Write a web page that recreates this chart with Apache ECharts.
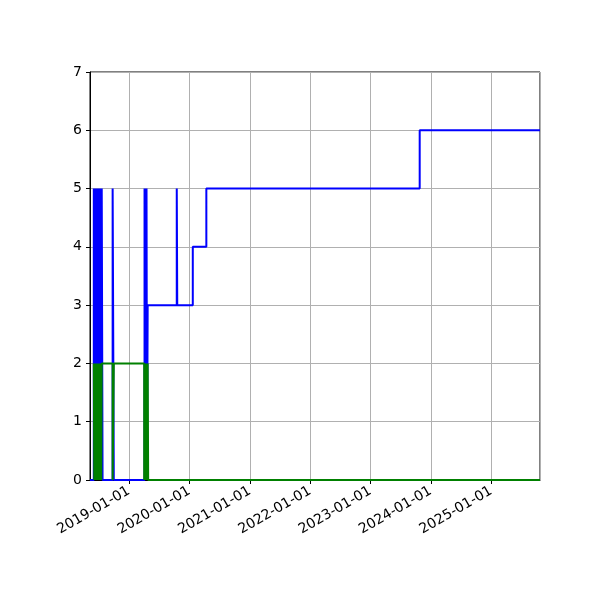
<!DOCTYPE html>
<html><head><meta charset="utf-8">
<script src="https://cdn.jsdelivr.net/npm/echarts@6/dist/echarts.min.js"></script>
<style>html,body{margin:0;padding:0;background:#fff}#c{width:600px;height:600px}</style>
</head><body><div id="c"></div>
<script>
// x-axis range
const xMin = '2018-05-10';
const xMax = '2025-10-23';
const yTicks = [0,1,2,3,4,5,6,7];

// blue series: [date, value] steps (value held until next date)
const blueDates = [
 '2018-05-10',
 '2018-06-02','2018-06-05','2018-06-08','2018-06-11','2018-06-14','2018-06-17','2018-06-20','2018-06-23','2018-06-26',
 '2018-06-29','2018-07-02','2018-07-05','2018-07-08','2018-07-11','2018-07-14','2018-07-17','2018-07-20','2018-07-25',
 '2018-09-24','2018-10-01',
 '2019-04-05','2019-04-08','2019-04-11','2019-04-14','2019-04-17','2019-04-20','2019-04-24',
 '2019-10-17','2019-10-20',
 '2020-01-22','2020-04-13','2023-10-26','2025-10-23'
];
const blueValues = [
 0,
 5,0,5,0,5,0,5,0,5,
 0,5,0,5,0,5,0,5,0,
 5,0,
 5,0,5,0,5,0,3,
 5,3,
 4,5,6,6
];

// green series
const greenDates = [
 '2018-06-02','2018-06-05','2018-06-08','2018-06-11','2018-06-14','2018-06-17','2018-06-20','2018-06-23','2018-06-26',
 '2018-06-29','2018-07-02','2018-07-05','2018-07-08','2018-07-11','2018-07-14','2018-07-17','2018-07-20','2018-07-25',
 '2018-09-24','2018-10-01',
 '2019-04-03','2019-04-06','2019-04-09','2019-04-12','2019-04-15','2019-04-18','2019-04-21','2019-04-24','2019-04-27',
 '2025-10-23'
];
const greenValues = [
 2,0,2,0,2,0,2,0,2,
 0,2,0,2,0,2,0,2,2,
 0,2,
 0,2,0,2,0,2,0,2,0,
 0
];

const toPairs = (d, v) => d.map((x, i) => [x, v[i]]);
const font = 'DejaVu Sans';
const pad = n => String(n).padStart(2, '0');

const chart = echarts.init(document.getElementById('c'), null, {renderer: 'canvas'});
chart.setOption({
  animation: false,
  backgroundColor: '#fff',
  grid: {left: 90, right: 60, top: 72, bottom: 120, show: true, borderColor: '#000', borderWidth: 1, backgroundColor: 'transparent'},
  xAxis: {
    type: 'time',
    min: xMin, max: xMax,
    minInterval: 365 * 86400000, maxInterval: 366 * 86400000,
    axisLine: {show: true, lineStyle: {color: '#000', width: 1}},
    axisTick: {show: true, length: 4, lineStyle: {color: '#000'}},
    splitLine: {show: true, lineStyle: {color: '#b0b0b0', width: 1}},
    axisLabel: {
      rotate: 30, color: '#000', fontFamily: font, fontSize: 14, margin: 10,
      showMinLabel: false, showMaxLabel: false,
      formatter: v => { const d = new Date(v); return d.getFullYear() + '-' + pad(d.getMonth() + 1) + '-' + pad(d.getDate()); }
    }
  },
  yAxis: {
    type: 'value', min: yTicks[0], max: yTicks[yTicks.length - 1], interval: 1,
    axisLine: {show: true, lineStyle: {color: '#000', width: 1}},
    axisTick: {show: true, length: 4, lineStyle: {color: '#000'}},
    splitLine: {show: true, lineStyle: {color: '#b0b0b0', width: 1}},
    axisLabel: {color: '#000', fontFamily: font, fontSize: 14, margin: 8}
  },
  series: [
    {type: 'line', step: 'end', data: toPairs(blueDates, blueValues), showSymbol: false, symbol: 'none',
     lineStyle: {color: '#0000ff', width: 2}, itemStyle: {color: '#0000ff'}, z: 2},
    {type: 'line', step: 'end', data: toPairs(greenDates, greenValues), showSymbol: false, symbol: 'none',
     lineStyle: {color: '#008000', width: 2}, itemStyle: {color: '#008000'}, z: 3}
  ]
});
</script></body></html>
